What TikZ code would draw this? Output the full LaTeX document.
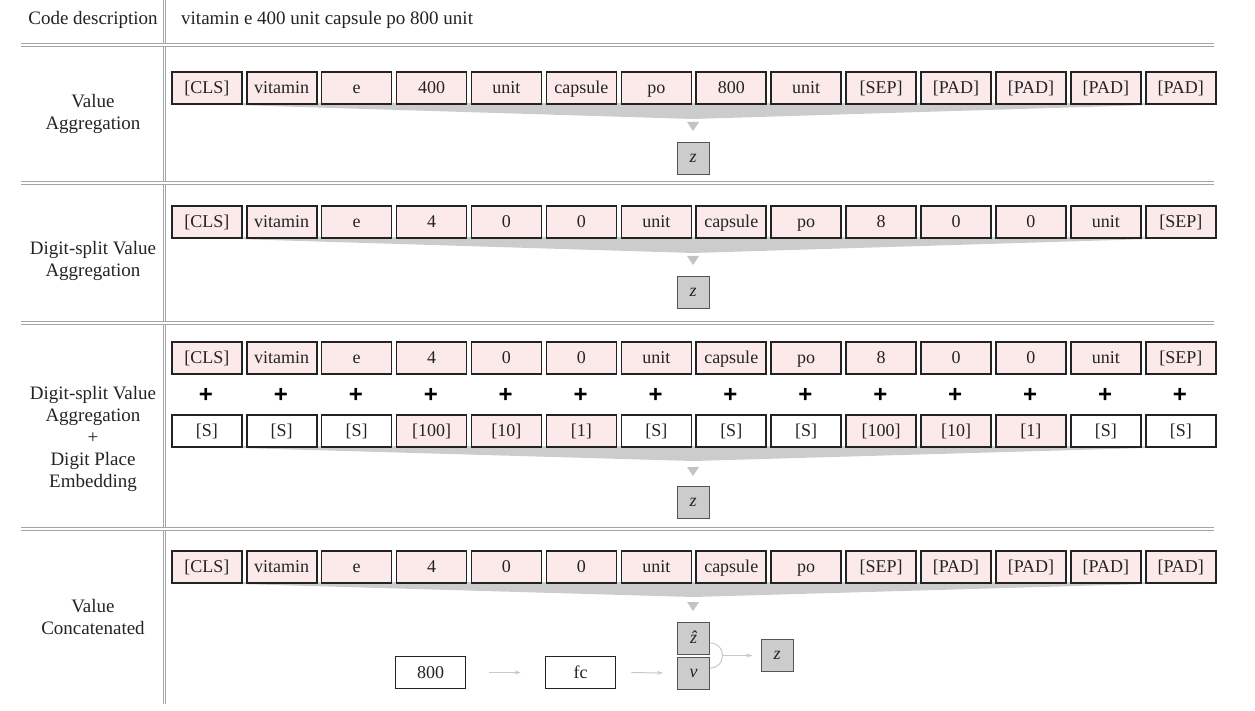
\documentclass[tikz,border=0pt]{standalone}
\usepackage{fontspec}
\setmainfont{Liberation Serif}
\newfontfamily\plusfont{Liberation Sans}
\usetikzlibrary{arrows.meta,calc}
\definecolor{tokpink}{RGB}{252,234,234}
\definecolor{boxline}{RGB}{35,35,35}
\definecolor{zgray}{RGB}{204,204,204}
\definecolor{zline}{RGB}{85,85,85}
\definecolor{sepgray}{RGB}{165,165,165}
\definecolor{funnelgray}{RGB}{204,204,204}
\definecolor{trigray}{RGB}{195,195,195}
\definecolor{arrgray}{RGB}{200,200,200}
\definecolor{txt}{RGB}{35,35,35}
\begin{document}
\begin{tikzpicture}[x=1pt,y=-1pt,
  tok/.style={draw=boxline, line width=1.6pt, fill=tokpink, minimum width=70pt, minimum height=32pt,
    inner sep=0pt, text height=14pt, text depth=2pt, font=\fontsize{18}{20}\selectfont, text=txt, anchor=north west},
  tokw/.style={tok, fill=white},
  zbox/.style={draw=zline, line width=1pt, fill=zgray, minimum width=32pt, minimum height=32pt,
    inner sep=0pt, text height=10pt, text depth=2pt, font=\fontsize{18}{20}\selectfont\itshape, text=txt},
  lab/.style={align=center, font=\fontsize{19}{22}\selectfont, text=txt},
  sep/.style={draw=sepgray, double=white, line width=1pt, double distance=1.6pt},
  plus/.style={font=\plusfont\bfseries\fontsize{24}{24}\selectfont, text=black, inner sep=0pt},
  funnel/.style={fill=funnelgray},
  tri/.style={fill=trigray},
  arr/.style={draw=arrgray, line width=1pt, -{Stealth[length=6pt,width=4pt]}},
  arrline/.style={draw=arrgray, line width=1pt}
]
\useasboundingbox (0,0) rectangle (1255,711);

% separators
\draw[sep] (164.5,0) -- (164.5,704);
\draw[sep] (21,45) -- (1214,45);
\draw[sep] (21,183) -- (1214,183);
\draw[sep] (21,323) -- (1214,323);
\draw[sep] (21,529) -- (1214,529);

% header row
\node[lab] (hcode) at (93,20) {Code description};
\node[lab, anchor=west, inner sep=0pt] (hdesc) at (181,20) {vitamin e 400 unit capsule po 800 unit};

% row labels
\node[lab] (l1) at (93,114) {Value\\Aggregation};
\node[lab] (l2) at (93,261) {Digit-split Value\\Aggregation};
\node[lab] (l3) at (93,439) {Digit-split Value\\Aggregation\\+\\Digit Place\\Embedding};
\node[lab] (l4) at (93,617) {Value\\Concatenated};

% funnels
\fill[funnel] (171,103) -- (1215,103) -- (693,119) -- cycle;
\fill[funnel] (171,237) -- (1215,237) -- (693,253) -- cycle;
\fill[funnel] (171,446) -- (1215,446) -- (693,461) -- cycle;
\fill[funnel] (171,582) -- (1215,582) -- (693,597) -- cycle;

% row 1
\foreach \t [count=\i from 0] in {{[CLS]},vitamin,e,400,unit,capsule,po,800,unit,{[SEP]},{[PAD]},{[PAD]},{[PAD]},{[PAD]}}
  \node[tok] (a\i) at (171+\i*74.92,71) {\t};
% row 2
\foreach \t [count=\i from 0] in {{[CLS]},vitamin,e,4,0,0,unit,capsule,po,8,0,0,unit,{[SEP]}}
  \node[tok] (b\i) at (171+\i*74.92,205) {\t};
% row 3 top
\foreach \t [count=\i from 0] in {{[CLS]},vitamin,e,4,0,0,unit,capsule,po,8,0,0,unit,{[SEP]}}
  \node[tok] (c\i) at (171+\i*74.92,341) {\t};
% row 3 plus
\foreach \i in {0,...,13}
  \node[plus] (p\i) at (206+\i*74.92,395) {+};
% row 3 bottom
\foreach \t/\s [count=\i from 0] in {{[S]}/tokw,{[S]}/tokw,{[S]}/tokw,{[100]}/tok,{[10]}/tok,{[1]}/tok,{[S]}/tokw,{[S]}/tokw,{[S]}/tokw,{[100]}/tok,{[10]}/tok,{[1]}/tok,{[S]}/tokw,{[S]}/tokw}
  \node[\s] (d\i) at (171+\i*74.92,414) {\t};
% row 4
\foreach \t [count=\i from 0] in {{[CLS]},vitamin,e,4,0,0,unit,capsule,po,{[SEP]},{[PAD]},{[PAD]},{[PAD]},{[PAD]}}
  \node[tok] (e\i) at (171+\i*74.92,550) {\t};

% down triangles
\fill[tri] (687,122) -- (699,122) -- (693,131) -- cycle;
\fill[tri] (687,256) -- (699,256) -- (693,265) -- cycle;
\fill[tri] (687,467) -- (699,467) -- (693,476) -- cycle;
\fill[tri] (687,602) -- (699,602) -- (693,611) -- cycle;

% z outputs
\node[zbox] (z1) at (693,158.5) {z};
\node[zbox] (z2) at (693,292.5) {z};
\node[zbox] (z3) at (693,502.5) {z};

% row 4 bottom part
\node[zbox, text height=13pt] (zh) at (693.5,638) {\^{z}};
\node[zbox] (v) at (693.5,673) {v};
\node[tokw, anchor=center] (n800) at (430.5,672.5) {800};
\node[tokw, anchor=center] (fc) at (580.5,672.5) {fc};
\node[zbox] (zf) at (777,655.5) {z};

\draw[arr, shorten <=23pt, shorten >=24pt] (n800.east) -- (fc.west);
\draw[arr, shorten <=15pt, shorten >=14pt] (fc.east) -- (v.west);
\coordinate (j) at ($(zh.south east)!0.5!(v.north east)$);
\draw[arrline] (j) ++(0,-12.5) .. controls +(16.7,0) and +(16.7,0) .. ++(0,25);
\coordinate (jr) at ($(j)+(12.5,0)$);
\draw[arr, shorten >=8pt] (jr) -- (zf.west |- jr);
\end{tikzpicture}
\end{document}
